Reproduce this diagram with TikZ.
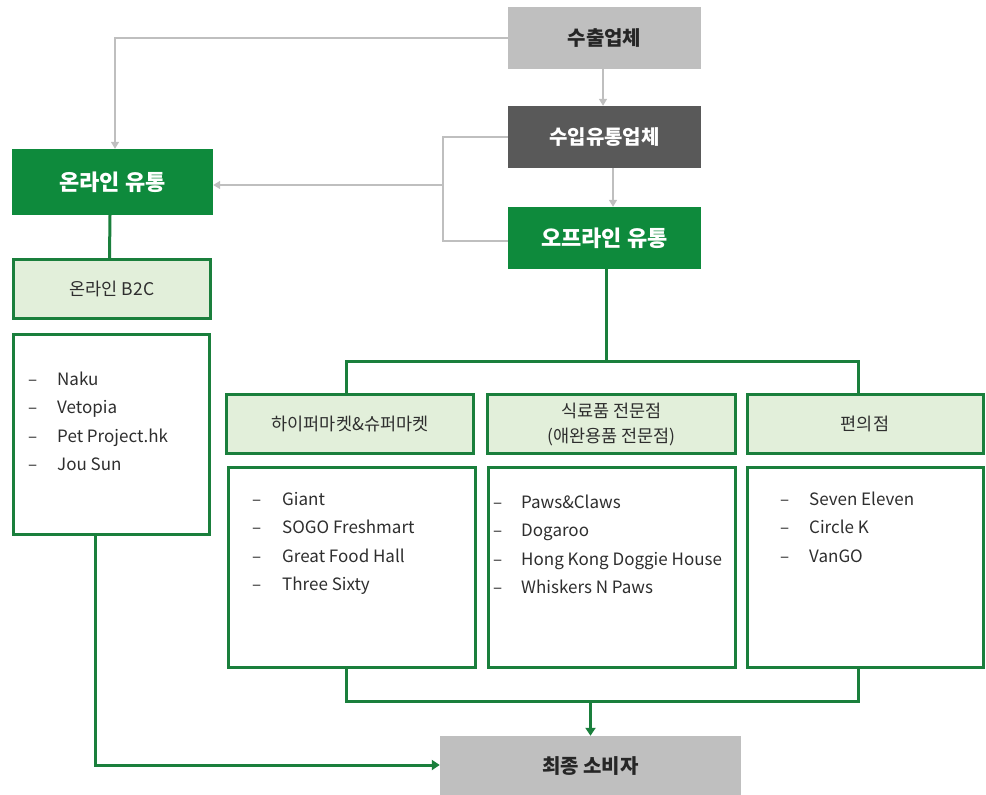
\documentclass[tikz,border=0pt]{standalone}
\usepackage{fontspec}
\setmainfont{Noto Sans CJK KR}
\usetikzlibrary{arrows.meta}
\definecolor{gmain}{HTML}{0E8A3C}
\definecolor{gline}{HTML}{1A7F3C}
\definecolor{glight}{HTML}{E2EFDA}
\definecolor{lgray}{HTML}{BFBFBF}
\definecolor{dgray}{HTML}{595959}
\definecolor{txt}{HTML}{2E2E2E}
\tikzset{
  box/.style={rectangle, inner sep=0pt, align=center},
  graybox/.style={box, fill=lgray, text=black!85, font=\fontsize{20}{22}\selectfont\bfseries},
  darkbox/.style={box, fill=dgray, text=white, font=\fontsize{20}{22}\selectfont\bfseries},
  greenbox/.style={box, fill=gmain, text=white, font=\fontsize{22}{24}\selectfont\bfseries},
  headbox/.style={box, fill=glight, draw=gline, line width=3pt, text=txt, font=\fontsize{17.5}{25}\selectfont},
  listbox/.style={box, fill=white, draw=gline, line width=3pt},
  item/.style={anchor=base west, inner sep=0pt, text=txt, font=\fontsize{17}{19}\selectfont},
  gconn/.style={draw=lgray, line width=1.3pt},
  garrow/.style={gconn, -{Triangle[length=7pt,width=8pt]}},
  gr/.style={draw=gline, line width=3pt},
  grarrow/.style={gr, -{Triangle[length=8pt,width=10pt]}},
}
\newcommand{\listitems}[5]{%
  \foreach \t [count=\k] in {#5}{%
    \node[item] (#1d\k) at (#2, #4+28.5*\k-28.5) {–};
    \node[item] (#1t\k) at (#3, #4+28.5*\k-28.5) {\t};
  }%
}
\begin{document}
\begin{tikzpicture}[x=1pt,y=-1pt]
\useasboundingbox (0,0) rectangle (986,795);
% top boxes
\node[graybox, minimum width=193pt, minimum height=62pt] (exp) at (604.5,38) {수출업체};
\node[darkbox, minimum width=193pt, minimum height=62pt] (imp) at (604.5,137) {수입유통업체};
\node[greenbox, minimum width=193pt, minimum height=62pt] (off) at (604.5,238) {오프라인 유통};
\node[greenbox, minimum width=201pt, minimum height=66pt] (on) at (112.5,182) {온라인 유통};
% online
\node[headbox, minimum width=197pt, minimum height=59pt] (b2c) at (112,289) {온라인 B2C};
\node[listbox, minimum width=196pt, minimum height=200pt] (onl) at (111,434.5) {};
% offline headers
\node[headbox, minimum width=247pt, minimum height=59pt] (h1) at (350,424) {하이퍼마켓\&슈퍼마켓};
\node[headbox, minimum width=248pt, minimum height=59pt] (h2) at (611.5,424) {식료품 전문점\\(애완용품 전문점)};
\node[headbox, minimum width=236pt, minimum height=59pt] (h3) at (865,424) {편의점};
% offline lists
\node[listbox, minimum width=247pt, minimum height=200pt] (l1) at (352,567) {};
\node[listbox, minimum width=247pt, minimum height=200pt] (l2) at (612,567) {};
\node[listbox, minimum width=236pt, minimum height=200pt] (l3) at (865,567) {};
% final
\node[graybox, minimum width=301pt, minimum height=60pt] (fin) at (590.5,766) {최종 소비자};
% list texts
\listitems{a}{28}{57}{385}{Naku,Vetopia,Pet Project.hk,Jou Sun}
\listitems{b}{252}{282}{505}{Giant,SOGO Freshmart,Great Food Hall,Three Sixty}
\listitems{c}{493}{521}{508}{Paws\&Claws,Dogaroo,Hong Kong Doggie House,Whiskers N Paws}
\listitems{e}{780}{809}{505}{Seven Eleven,Circle K,VanGO}
% gray connectors
\draw[garrow] (exp.west) -| ([xshift=2.5pt]on.north);
\draw[garrow] ([xshift=-1.5pt]exp.south) -- ([xshift=-1.5pt]imp.north);
\draw[garrow] ([xshift=8.5pt]imp.south) -- ([xshift=8.5pt]off.north);
\coordinate (bx) at (443,185);
\draw[gconn] (imp.west) -| (bx) |- ([yshift=-3pt]off.west);
\draw[garrow] (bx) -- ([yshift=-3pt]on.east);
% green connectors
\draw[gr] ([xshift=-2.5pt]on.south) -- ([xshift=-2.5pt]b2c.north);
\draw[grarrow] ([xshift=-16pt]onl.south) |- ([yshift=1pt]fin.west);
\coordinate (tl) at (346,361);
\coordinate (tr) at (858,361);
\draw[gr] ([xshift=1.5pt]off.south) -- ([xshift=1.5pt]off.south |- tl);
\draw[gr] (tl |- h1.north) -- (tl) -- (tr) -- (tr |- h3.north);
\coordinate (bl) at (346,701);
\coordinate (brr) at (858,701);
\draw[gr] (bl |- l1.south) -- (bl) -- (brr) -- (brr |- l3.south);
\draw[grarrow] (bl -| fin.north) -- (fin.north);
\end{tikzpicture}
\end{document}
